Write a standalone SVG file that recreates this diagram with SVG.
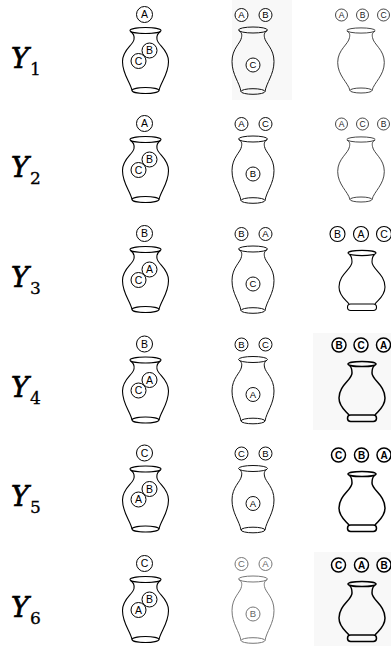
<svg xmlns="http://www.w3.org/2000/svg" xmlns:xlink="http://www.w3.org/1999/xlink" width="391" height="646" viewBox="0 0 391 646">
<style>
.bg{fill:#fff}
.panel{fill:#f8f8f8}
.v1{fill:none;stroke:#000;stroke-width:1.1}
.v2{fill:none;stroke:#111;stroke-width:1}
.v3{fill:none;stroke:#333;stroke-width:0.9}
.v4{fill:none;stroke:#000;stroke-width:1.5}
.cA{fill:#fff;stroke:#000;stroke-width:1}
.cB{fill:#fff;stroke:#111;stroke-width:1}
.cC{fill:#fff;stroke:#333;stroke-width:0.9}
.cD{fill:#fff;stroke:#000;stroke-width:1.5}
.grey .cB{stroke:#777}
.grey text{fill:#666}
.t{font-family:"Liberation Sans",Arial,sans-serif;text-anchor:middle;fill:#000}
.tA{font-size:10.5px}
.tB{font-size:9.5px}
.tC{font-size:8.5px;fill:#222}
.tD{font-size:10px;font-weight:bold}
.tE{font-size:10.5px}
.ylab{font-family:"DejaVu Serif",serif;font-style:italic;font-size:27px;fill:#000;stroke:#000;stroke-width:0.7}
.ysub{font-family:"DejaVu Serif",serif;font-size:17px;fill:#000;stroke:#000;stroke-width:0.3}
</style>
<defs>
<g id="vase1">
<path d="M -15,17 C -11,19.5 -11,22 -11.5,25 C -12.5,31 -23,35 -23,47 C -23,60 -15,68 -13.5,76 A 13.5 3 0 0 0 13.5,76 C 15,68 23,60 23,47 C 23,35 12.5,31 11.5,25 C 11,22 11,19.5 15,17"/>
<ellipse cx="0" cy="16" rx="15.5" ry="3"/>
<path d="M -13.5,76 A 13.5 3 0 0 1 13.5,76"/>
</g>
<g id="vase2">
<path d="M -14,16 C -11,18.5 -11,20 -11.5,23 C -12.5,29 -21,34 -21,47 C -21,60 -13.5,68 -12,77 A 12 2.8 0 0 0 12,77 C 13.5,68 21,60 21,47 C 21,34 12.5,29 11.5,23 C 11,20 11,18.5 14,16"/>
<ellipse cx="0" cy="15.5" rx="14.5" ry="3"/>
<path d="M -12,77 A 12 2.8 0 0 1 12,77"/>
</g>
<g id="vase3">
<path d="M -14,16.5 C -11,18.5 -11,20 -11.5,23 C -12.5,30 -23.3,35 -23.3,48 C -23.3,61 -13,68 -11,76 A 11 2.5 0 0 0 11,76 C 13,68 23.3,61 23.3,48 C 23.3,35 12.5,30 11.5,23 C 11,20 11,18.5 14,16.5"/>
<ellipse cx="0" cy="16" rx="14.2" ry="2.6"/>
<path d="M -11,76 A 11 2.5 0 0 1 11,76"/>
</g>
<g id="vase4">
<path d="M -12.5,20.5 C -10,22.5 -10,25 -10,28 C -10,35 -23,40 -23,53 C -23,62 -16,66 -13,70 M 13,70 C 16,66 23,62 23,53 C 23,40 10,35 10,28 C 10,25 10,22.5 12.5,20.5"/>
<ellipse cx="0" cy="19" rx="14" ry="2.6"/>
<rect x="-14.5" y="70" width="29" height="6.5" rx="3.2"/>
</g>
</defs>
<rect class="bg" x="0" y="0" width="391" height="646"/>

<g id="labels">
<g id="Y1"><text class="ylab" x="11" y="67.5">Y</text><text class="ysub" x="30" y="74.5">1</text></g>
<g id="Y2"><text class="ylab" x="11" y="176.7">Y</text><text class="ysub" x="30" y="183.5">2</text></g>
<g id="Y3"><text class="ylab" x="11" y="286.5">Y</text><text class="ysub" x="30" y="293.5">3</text></g>
<g id="Y4"><text class="ylab" x="11" y="397">Y</text><text class="ysub" x="30" y="404">4</text></g>
<g id="Y5"><text class="ylab" x="11" y="506">Y</text><text class="ysub" x="30" y="513">5</text></g>
<g id="Y6"><text class="ylab" x="11" y="616.5">Y</text><text class="ysub" x="30" y="623.5">6</text></g>
</g>

<!-- Column 1 -->
<g id="r1c1" transform="translate(145.5,14.5)">
<use href="#vase1" xlink:href="#vase1" class="v1"/>
<circle class="cA" cx="-1" cy="0" r="8"/><text class="t tA" x="-1" y="3.8">A</text>
<circle class="cA" cx="-7" cy="46.5" r="7.5"/><text class="t tA" x="-7" y="50.3">C</text>
<circle class="cA" cx="4" cy="36" r="7.5"/><text class="t tA" x="4" y="39.8">B</text>
</g>
<g id="r2c1" transform="translate(145.5,123.5)">
<use href="#vase1" xlink:href="#vase1" class="v1"/>
<circle class="cA" cx="-1" cy="0" r="8"/><text class="t tA" x="-1" y="3.8">A</text>
<circle class="cA" cx="-7" cy="46.5" r="7.5"/><text class="t tA" x="-7" y="50.3">C</text>
<circle class="cA" cx="4" cy="36" r="7.5"/><text class="t tA" x="4" y="39.8">B</text>
</g>
<g id="r3c1" transform="translate(145.5,233.5)">
<use href="#vase1" xlink:href="#vase1" class="v1"/>
<circle class="cA" cx="-1" cy="0" r="8"/><text class="t tA" x="-1" y="3.8">B</text>
<circle class="cA" cx="-7" cy="46.5" r="7.5"/><text class="t tA" x="-7" y="50.3">C</text>
<circle class="cA" cx="4" cy="36" r="7.5"/><text class="t tA" x="4" y="39.8">A</text>
</g>
<g id="r4c1" transform="translate(145.5,344)">
<use href="#vase1" xlink:href="#vase1" class="v1"/>
<circle class="cA" cx="-1" cy="0" r="8"/><text class="t tA" x="-1" y="3.8">B</text>
<circle class="cA" cx="-7" cy="46.5" r="7.5"/><text class="t tA" x="-7" y="50.3">C</text>
<circle class="cA" cx="4" cy="36" r="7.5"/><text class="t tA" x="4" y="39.8">A</text>
</g>
<g id="r5c1" transform="translate(145.5,453)">
<use href="#vase1" xlink:href="#vase1" class="v1"/>
<circle class="cA" cx="-1" cy="0" r="8"/><text class="t tA" x="-1" y="3.8">C</text>
<circle class="cA" cx="-7" cy="46.5" r="7.5"/><text class="t tA" x="-7" y="50.3">A</text>
<circle class="cA" cx="4" cy="36" r="7.5"/><text class="t tA" x="4" y="39.8">B</text>
</g>
<g id="r6c1" transform="translate(145.5,563.5)">
<use href="#vase1" xlink:href="#vase1" class="v1"/>
<circle class="cA" cx="-1" cy="0" r="8"/><text class="t tA" x="-1" y="3.8">C</text>
<circle class="cA" cx="-7" cy="46.5" r="7.5"/><text class="t tA" x="-7" y="50.3">A</text>
<circle class="cA" cx="4" cy="36" r="7.5"/><text class="t tA" x="4" y="39.8">B</text>
</g>

<!-- Column 2 -->
<rect class="panel" x="232" y="0" width="60" height="100"/>
<g id="r1c2" transform="translate(253,14.5)">
<use href="#vase2" xlink:href="#vase2" class="v2"/>
<circle class="cB" cx="-11.5" cy="0.5" r="6.5"/><text class="t tB" x="-11.5" y="3.9">A</text>
<circle class="cB" cx="12.5" cy="0.5" r="6.5"/><text class="t tB" x="12.5" y="3.9">B</text>
<circle class="cB" cx="0" cy="50.5" r="7"/><text class="t tB" x="0" y="53.9">C</text>
</g>
<g id="r2c2" transform="translate(253,123.5)">
<use href="#vase2" xlink:href="#vase2" class="v2"/>
<circle class="cB" cx="-11.5" cy="0.5" r="6.5"/><text class="t tB" x="-11.5" y="3.9">A</text>
<circle class="cB" cx="12.5" cy="0.5" r="6.5"/><text class="t tB" x="12.5" y="3.9">C</text>
<circle class="cB" cx="0" cy="50.5" r="7"/><text class="t tB" x="0" y="53.9">B</text>
</g>
<g id="r3c2" transform="translate(253,233.5)">
<use href="#vase2" xlink:href="#vase2" class="v2"/>
<circle class="cB" cx="-11.5" cy="0.5" r="6.5"/><text class="t tB" x="-11.5" y="3.9">B</text>
<circle class="cB" cx="12.5" cy="0.5" r="6.5"/><text class="t tB" x="12.5" y="3.9">A</text>
<circle class="cB" cx="0" cy="50.5" r="7"/><text class="t tB" x="0" y="53.9">C</text>
</g>
<g id="r4c2" transform="translate(253,344)">
<use href="#vase2" xlink:href="#vase2" class="v2"/>
<circle class="cB" cx="-11.5" cy="0.5" r="6.5"/><text class="t tB" x="-11.5" y="3.9">B</text>
<circle class="cB" cx="12.5" cy="0.5" r="6.5"/><text class="t tB" x="12.5" y="3.9">C</text>
<circle class="cB" cx="0" cy="50.5" r="7"/><text class="t tB" x="0" y="53.9">A</text>
</g>
<g id="r5c2" transform="translate(253,453)">
<use href="#vase2" xlink:href="#vase2" class="v2"/>
<circle class="cB" cx="-11.5" cy="0.5" r="6.5"/><text class="t tB" x="-11.5" y="3.9">C</text>
<circle class="cB" cx="12.5" cy="0.5" r="6.5"/><text class="t tB" x="12.5" y="3.9">B</text>
<circle class="cB" cx="0" cy="50.5" r="7"/><text class="t tB" x="0" y="53.9">A</text>
</g>
<g id="r6c2" class="grey" transform="translate(253,563.5)">
<use href="#vase2" xlink:href="#vase2" class="v2" style="stroke:#777"/>
<circle class="cB" cx="-11.5" cy="0.5" r="6.5"/><text class="t tB" x="-11.5" y="3.9">C</text>
<circle class="cB" cx="12.5" cy="0.5" r="6.5"/><text class="t tB" x="12.5" y="3.9">A</text>
<circle class="cB" cx="0" cy="50.5" r="7"/><text class="t tB" x="0" y="53.9">B</text>
</g>

<!-- Column 3 -->
<rect class="panel" x="313" y="333" width="78" height="97"/>
<rect class="panel" x="314" y="552" width="77" height="94"/>
<g id="r1c3" transform="translate(361,14.5)">
<use href="#vase3" xlink:href="#vase3" class="v3"/>
<circle class="cC" cx="-19.5" cy="0.5" r="6"/><text class="t tC" x="-19.5" y="3.6">A</text>
<circle class="cC" cx="1.5" cy="0.5" r="6"/><text class="t tC" x="1.5" y="3.6">B</text>
<circle class="cC" cx="22.5" cy="0.5" r="6"/><text class="t tC" x="22.5" y="3.6">C</text>
</g>
<g id="r2c3" transform="translate(361,123.5)">
<use href="#vase3" xlink:href="#vase3" class="v3"/>
<circle class="cC" cx="-19.5" cy="0.5" r="6"/><text class="t tC" x="-19.5" y="3.6">A</text>
<circle class="cC" cx="1.5" cy="0.5" r="6"/><text class="t tC" x="1.5" y="3.6">C</text>
<circle class="cC" cx="22.5" cy="0.5" r="6"/><text class="t tC" x="22.5" y="3.6">B</text>
</g>
<g id="r3c3" transform="translate(362,234)">
<use href="#vase4" xlink:href="#vase4" class="v4" style="stroke-width:1.1"/>
<circle class="cD" cx="-24.5" cy="0" r="7.5" style="stroke-width:1.1"/><text class="t tE" x="-24.5" y="3.8">B</text>
<circle class="cD" cx="-1" cy="0" r="7.5" style="stroke-width:1.1"/><text class="t tE" x="-1" y="3.8">A</text>
<circle class="cD" cx="22" cy="0" r="7.5" style="stroke-width:1.1"/><text class="t tE" x="22" y="3.8">C</text>
</g>
<g id="r4c3" transform="translate(362,345)">
<use href="#vase4" xlink:href="#vase4" class="v4"/>
<circle class="cD" cx="-23" cy="0" r="7"/><text class="t tD" x="-23" y="3.6">B</text>
<circle class="cD" cx="-1" cy="0" r="7"/><text class="t tD" x="-1" y="3.6">C</text>
<circle class="cD" cx="21.5" cy="0" r="7"/><text class="t tD" x="21.5" y="3.6">A</text>
</g>
<g id="r5c3" transform="translate(362,455)">
<use href="#vase4" xlink:href="#vase4" class="v4"/>
<circle class="cD" cx="-23.5" cy="0" r="7"/><text class="t tD" x="-23.5" y="3.6">C</text>
<circle class="cD" cx="-0.5" cy="0" r="7"/><text class="t tD" x="-0.5" y="3.6">B</text>
<circle class="cD" cx="22" cy="0" r="7"/><text class="t tD" x="22" y="3.6">A</text>
</g>
<g id="r6c3" transform="translate(362,565)">
<use href="#vase4" xlink:href="#vase4" class="v4"/>
<circle class="cD" cx="-23.5" cy="0" r="7"/><text class="t tD" x="-23.5" y="3.6">C</text>
<circle class="cD" cx="-0.5" cy="0" r="7"/><text class="t tD" x="-0.5" y="3.6">A</text>
<circle class="cD" cx="22" cy="0" r="7"/><text class="t tD" x="22" y="3.6">B</text>
</g>
</svg>
